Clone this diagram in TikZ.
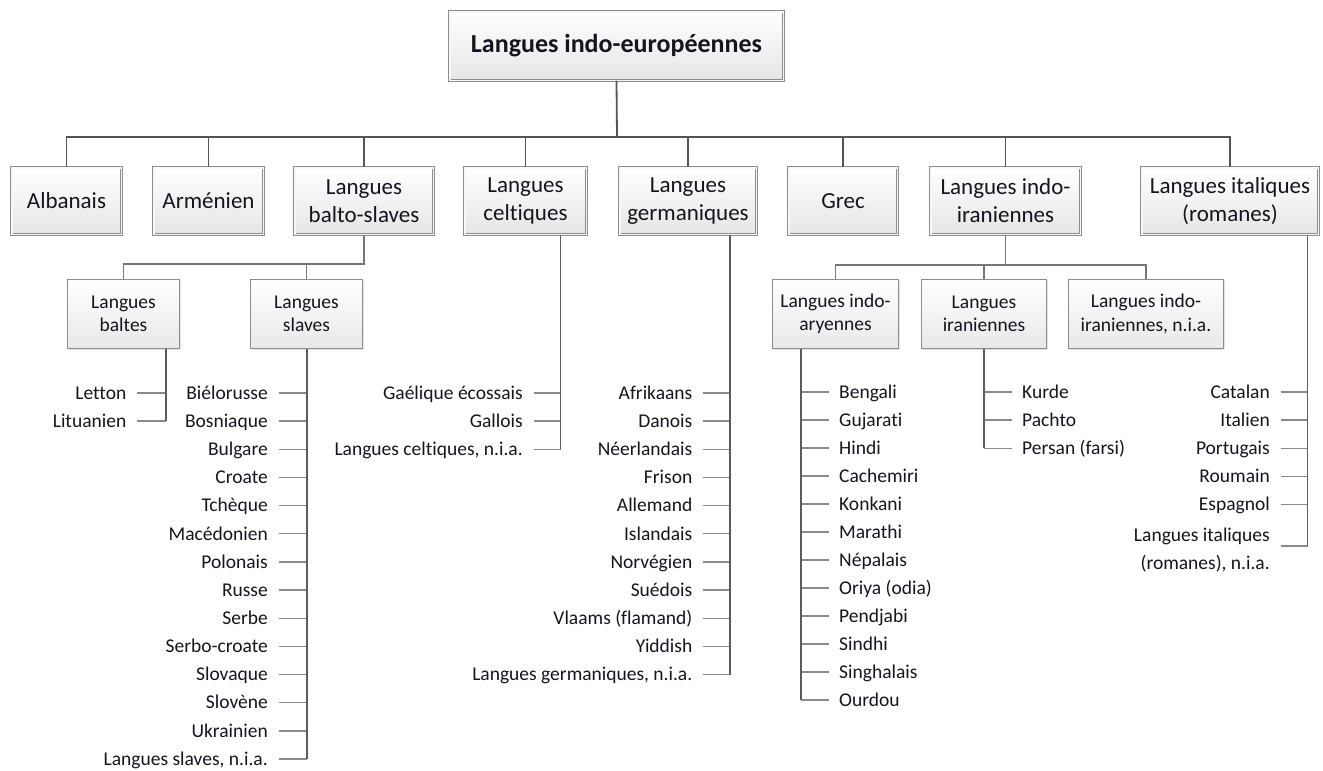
\documentclass[tikz,border=0pt]{standalone}
\usepackage{fontspec}
\setmainfont{Carlito}[Ligatures={NoCommon}]
\usetikzlibrary{shadows}
\definecolor{txt}{HTML}{15151F}
\definecolor{busc}{HTML}{555555}
\definecolor{subc}{HTML}{777777}
\definecolor{vlc}{HTML}{5C5C5C}
\definecolor{stubc}{HTML}{8A8A8A}
\definecolor{bord}{HTML}{8C8C8C}
\tikzset{
  every node/.style={text=txt},
  topbox/.style={draw=bord, line width=0.9pt, double=white!97!black, double distance=1.6pt,
    top color=white, bottom color=black!10, inner sep=0pt, align=center,
    drop shadow={shadow xshift=1.5pt, shadow yshift=-1.5pt, fill=black!22},
    font=\fontsize{26}{30}\selectfont\bfseries},
  box1/.style={draw=bord, line width=0.9pt, double=white!97!black, double distance=1.6pt,
    top color=white, bottom color=black!10, inner sep=0pt, align=center,
    minimum height=66.6pt,
    drop shadow={shadow xshift=1.5pt, shadow yshift=-1.5pt, fill=black!22},
    font=\fontsize{23}{28}\selectfont},
  box2/.style={draw=bord, line width=1pt, top color=white, bottom color=black!9,
    inner sep=0pt, align=center, minimum height=69pt,
    drop shadow={shadow xshift=1.5pt, shadow yshift=-1.5pt, fill=black!20},
    font=\fontsize{19.5}{23.5}\selectfont},
  leaf/.style={inner xsep=10.5pt, inner ysep=0pt, text height=14.6pt, text depth=2pt,
    font=\fontsize{19.5}{24}\selectfont},
  leaftwo/.style={inner xsep=10.5pt, inner ysep=0pt, align=right,
    font=\fontsize{19.5}{28}\selectfont},
  bus/.style={draw=busc, line width=1.8pt},
  subbus/.style={draw=subc, line width=1.4pt},
  vline/.style={draw=vlc, line width=1.8pt},
  stub/.style={draw=stubc, line width=1.4pt},
}
\begin{document}
\begin{tikzpicture}[x=1pt, y=-1pt]
\useasboundingbox (0,0) rectangle (1323,771);

% top
\node[topbox, minimum width=333.6pt, minimum height=68.6pt] (top) at (616.5,46) {Langues indo-européennes};

% level 1
\node[box1, minimum width=109.6pt] (alb) at (66.5,201) {Albanais};
\node[box1, minimum width=109.6pt] (arm) at (208.5,201) {Arménien};
\node[box1, minimum width=138.6pt] (balto) at (364,201) {Langues\\balto-slaves};
\node[box1, minimum width=121.6pt] (celt) at (525.5,201) {Langues\\celtiques};
\node[box1, minimum width=136.6pt] (germ) at (688,201) {Langues\\germaniques};
\node[box1, minimum width=108.6pt] (grec) at (843,201) {Grec};
\node[box1, minimum width=149.6pt] (indoir) at (1005.5,201) {Langues indo-\\iraniennes};
\node[box1, minimum width=176.6pt] (ital) at (1230,201) {Langues italiques\\(romanes)};

\coordinate (b0) at (617,137);
\draw[bus] (top.south) -- (b0);
\foreach \n in {alb,arm,balto,celt,germ,grec,indoir,ital}{
  \draw[bus] (b0) -| (\n.north);
}

% level 2
\node[box2, minimum width=112pt] (baltes) at (123.5,314) {Langues\\baltes};
\node[box2, minimum width=112pt] (slaves) at (306.5,314) {Langues\\slaves};
\node[box2, minimum width=126pt] (indoar) at (835.5,314) {Langues indo-\\aryennes};
\node[box2, minimum width=125pt] (iran) at (984,314) {Langues\\iraniennes};
\node[box2, minimum width=155pt] (inia) at (1146,314) {Langues indo-\\iraniennes, n.i.a.};

\coordinate (b1) at (364,264);
\draw[subbus] (balto.south) -- (b1) -| (baltes.north);
\draw[subbus] (b1) -| (slaves.north);
\coordinate (b2) at (1005.5,265);
\draw[subbus] (indoir.south) -- (b2) -| (indoar.north);
\draw[subbus] (b2) -| (iran.north);
\draw[subbus] (b2) -| (inia.north);

% vertical guides
\coordinate (vba) at (166,0);
\coordinate (vsl) at (307,0);
\coordinate (vce) at (560.5,0);
\coordinate (vge) at (730,0);
\coordinate (via) at (801,0);
\coordinate (vir) at (984,0);
\coordinate (vit) at (1307.5,0);

% baltes
\foreach \t [count=\i from 0] in {Letton, Lituanien}{
  \node[leaf, anchor=east] (ba\i) at (137,{393+28.15*\i}) {\t};
  \draw[stub] (ba\i.east) -- (ba\i.east -| vba);
}
\draw[vline] (baltes.south -| vba) -- (ba1.east -| vba);

% slaves
\foreach \t [count=\i from 0] in {Biélorusse, Bosniaque, Bulgare, Croate, Tchèque, Macédonien, Polonais, Russe, Serbe, Serbo-croate, Slovaque, Slovène, Ukrainien, {Langues slaves, n.i.a.}}{
  \node[leaf, anchor=east] (sl\i) at (278.5,{393+28.15*\i}) {\t};
  \draw[stub] (sl\i.east) -- (sl\i.east -| vsl);
}
\draw[vline] (slaves.south -| vsl) -- (sl13.east -| vsl);

% celtiques
\foreach \t [count=\i from 0] in {Gaélique écossais, Gallois, {Langues celtiques, n.i.a.}}{
  \node[leaf, anchor=east] (ce\i) at (533.5,{393+28.15*\i}) {\t};
  \draw[stub] (ce\i.east) -- (ce\i.east -| vce);
}
\draw[vline] (celt.south -| vce) -- (ce2.east -| vce);

% germaniques
\foreach \t [count=\i from 0] in {Afrikaans, Danois, Néerlandais, Frison, Allemand, Islandais, Norvégien, Suédois, Vlaams (flamand), Yiddish, {Langues germaniques, n.i.a.}}{
  \node[leaf, anchor=east] (ge\i) at (703,{393+28.15*\i}) {\t};
  \draw[stub] (ge\i.east) -- (ge\i.east -| vge);
}
\draw[vline] (germ.south -| vge) -- (ge10.east -| vge);

% indo-aryennes
\foreach \t [count=\i from 0] in {Bengali, Gujarati, Hindi, Cachemiri, Konkani, Marathi, Népalais, Oriya (odia), Pendjabi, Sindhi, Singhalais, Ourdou}{
  \node[leaf, anchor=west] (ia\i) at (828.5,{392+28*\i}) {\t};
  \draw[stub] (ia\i.west) -- (ia\i.west -| via);
}
\draw[vline] (indoar.south -| via) -- (ia11.west -| via);

% iraniennes
\foreach \t [count=\i from 0] in {Kurde, Pachto, Persan (farsi)}{
  \node[leaf, anchor=west] (ir\i) at (1011.5,{392+28.15*\i}) {\t};
  \draw[stub] (ir\i.west) -- (ir\i.west -| vir);
}
\draw[vline] (iran.south -| vir) -- (ir2.west -| vir);

% italiques
\foreach \t [count=\i from 0] in {Catalan, Italien, Portugais, Roumain, Espagnol}{
  \node[leaf, anchor=east] (it\i) at (1280.5,{392+28.15*\i}) {\t};
  \draw[stub] (it\i.east) -- (it\i.east -| vit);
}
\node[leaftwo, anchor=east] (it5) at (1280.5,550) {Langues italiques\\(romanes), n.i.a.};
\coordinate (it5s) at ([yshift=4pt]it5.east);
\draw[stub] (it5s) -- (it5s -| vit);
\draw[vline] (ital.south -| vit) -- (it5s -| vit);
\end{tikzpicture}
\end{document}
